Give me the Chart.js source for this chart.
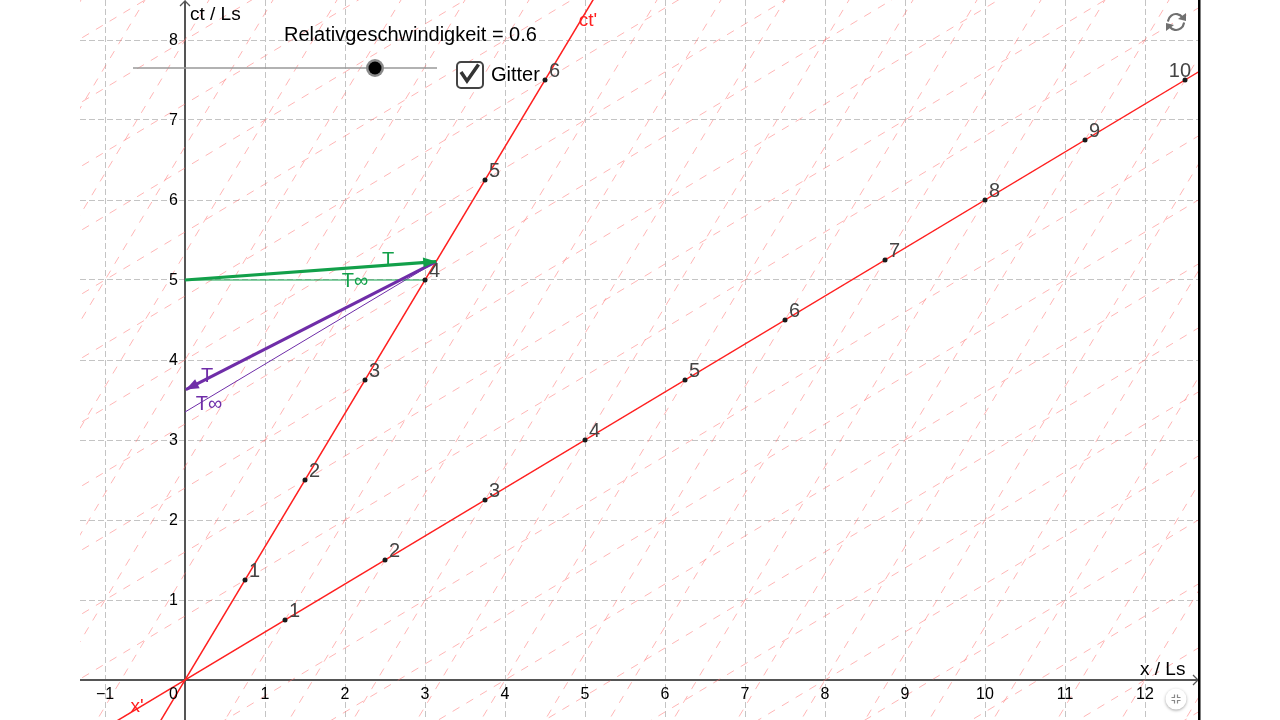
<!DOCTYPE html>
<html><head><meta charset="utf-8">
<script src="https://cdn.jsdelivr.net/npm/chart.js@4.4.1/dist/chart.umd.min.js"></script>
<style>
html,body{margin:0;padding:0;background:#fff;width:1280px;height:720px;overflow:hidden;font-family:"Liberation Sans",Arial,sans-serif}
#wrap{position:relative;width:1280px;height:720px}
canvas{position:absolute;left:0;top:0}
.lbl{position:absolute;color:#000;white-space:nowrap;font-size:20px;line-height:20px}
</style></head><body>
<div id="wrap"><canvas id="c" width="1280" height="720"></canvas>
<div class="lbl" style="left:284px;top:24px">Relativgeschwindigkeit = 0.6</div>
<div class="lbl" style="left:491px;top:64px">Gitter</div>
</div>
<script>
// ---- data ----
const velocity = 0.6;
const xTickValues = [-1,0,1,2,3,4,5,6,7,8,9,10,11,12];
const yTickValues = [1,2,3,4,5,6,7,8];
const ctPrimeTickLabels = ['1','2','3','4','5','6'];
const ctPrimeTickX = [0.75,1.5,2.25,3,3.75,4.5];
const ctPrimeTickY = [1.25,2.5,3.75,5,6.25,7.5];
const xPrimeTickLabels = ['1','2','3','4','5','6','7','8','9','10'];
const xPrimeTickX = [1.25,2.5,3.75,5,6.25,7.5,8.75,10,11.25,12.5];
const xPrimeTickY = [0.75,1.5,2.25,3,3.75,4.5,5.25,6,6.75,7.5];
const primedGridOffsets = [-8,-7.2,-6.4,-5.6,-4.8,-4,-3.2,-2.4,-1.6,-0.8,0,0.8,1.6,2.4,3.2,4,4.8,5.6,6.4,7.2,8,8.8,9.6,10.4,11.2,12,12.8];
const signalTX = [0, 3.14];      const signalTY = [5.0, 5.23];
const signalTInfX = [0, 3.0];    const signalTInfY = [5.0, 5.0];
const returnTX = [3.14, 0.01];   const returnTY = [5.23, 3.63];
const returnTInfX = [3.14, 0];   const returnTInfY = [5.23, 3.35];

const pts = (xs, ys) => xs.map((x, i) => ({x, y: ys[i]}));
const GREEN = '#12a04a', PURPLE = '#6f2da8', RED = '#ff2020';

const datasets = [];
primedGridOffsets.forEach(c => {
  // lines parallel to x' (constant ct')
  datasets.push({data:[{x:-3,y:c+velocity*-3},{x:16,y:c+velocity*16}], showLine:true, borderColor:'rgba(255,110,110,0.5)', borderWidth:1, borderDash:[8,8], pointRadius:0, order:10});
  // lines parallel to ct' (constant x')
  datasets.push({data:[{x:c+velocity*-2,y:-2},{x:c+velocity*11,y:11}], showLine:true, borderColor:'rgba(255,110,110,0.5)', borderWidth:1, borderDash:[8,8], pointRadius:0, order:10});
});
// primed axes
datasets.push({data:[{x:-3,y:-3*velocity},{x:16,y:16*velocity}], showLine:true, borderColor:RED, borderWidth:1.5, pointRadius:0, order:5});
datasets.push({data:[{x:-2*velocity,y:-2},{x:11*velocity,y:11}], showLine:true, borderColor:RED, borderWidth:1.5, pointRadius:0, order:5});
// signals
datasets.push({data:pts(signalTInfX, signalTInfY), showLine:true, borderColor:GREEN, borderWidth:1, pointRadius:0, order:3});
datasets.push({data:pts(returnTInfX, returnTInfY), showLine:true, borderColor:PURPLE, borderWidth:1, pointRadius:0, order:3});
datasets.push({data:pts(signalTX, signalTY), showLine:true, borderColor:GREEN, borderWidth:3.2, pointRadius:0, order:2});
datasets.push({data:pts(returnTX, returnTY), showLine:true, borderColor:PURPLE, borderWidth:3.2, pointRadius:0, order:2});
// tick points
datasets.push({data:pts(ctPrimeTickX, ctPrimeTickY), showLine:false, pointRadius:2.5, pointBackgroundColor:'#1a1a1a', pointBorderWidth:0, order:1});
datasets.push({data:pts(xPrimeTickX, xPrimeTickY), showLine:false, pointRadius:2.5, pointBackgroundColor:'#1a1a1a', pointBorderWidth:0, order:1});

function arrowHead(ctx, fx, fy, tx, ty, color, L, W) {
  const a = Math.atan2(ty - fy, tx - fx);
  ctx.save(); ctx.fillStyle = color; ctx.beginPath();
  ctx.moveTo(tx, ty);
  ctx.lineTo(tx - L*Math.cos(a) + W*Math.sin(a), ty - L*Math.sin(a) - W*Math.cos(a));
  ctx.lineTo(tx - L*Math.cos(a) - W*Math.sin(a), ty - L*Math.sin(a) + W*Math.cos(a));
  ctx.closePath(); ctx.fill(); ctx.restore();
}

const deco = {
  id:'deco',
  beforeDatasetsDraw(chart) {
    const {ctx, chartArea:a, scales:{x, y}} = chart;
    const x0 = x.getPixelForValue(0), y0 = y.getPixelForValue(0);
    ctx.save();
    ctx.strokeStyle = '#555'; ctx.lineWidth = 2;
    ctx.beginPath(); ctx.moveTo(a.left, y0); ctx.lineTo(a.right - 2, y0); ctx.stroke();
    ctx.beginPath(); ctx.moveTo(x0, a.bottom); ctx.lineTo(x0, a.top + 1); ctx.stroke();
    ctx.lineWidth = 1.3;
    ctx.beginPath(); ctx.moveTo(a.right - 7, y0 - 5); ctx.lineTo(a.right - 2, y0); ctx.lineTo(a.right - 7, y0 + 5); ctx.stroke();
    ctx.beginPath(); ctx.moveTo(x0 - 5, a.top + 6); ctx.lineTo(x0, a.top + 1); ctx.lineTo(x0 + 5, a.top + 6); ctx.stroke();
    ctx.restore();
  },
  afterDatasetsDraw(chart) {
    const {ctx, chartArea:a, scales:{x, y}} = chart;
    const x0 = x.getPixelForValue(0), y0 = y.getPixelForValue(0);
    const F = '"Liberation Sans", Arial, sans-serif';
    ctx.save();
    const px = (v) => x.getPixelForValue(v), py = (v) => y.getPixelForValue(v);
    // arrowheads
    arrowHead(ctx, px(signalTX[0]), py(signalTY[0]), px(signalTX[1]), py(signalTY[1]), GREEN, 13, 5);
    arrowHead(ctx, px(returnTX[0]), py(returnTY[0]), px(returnTX[1]), py(returnTY[1]), PURPLE, 13, 5);
    // tick labels
    ctx.fillStyle = '#000'; ctx.font = '16px ' + F;
    ctx.textBaseline = 'middle';
    xTickValues.forEach(v => {
      const p = px(v);
      if (v === 0) { ctx.textAlign = 'right'; ctx.fillText('0', x0 - 7, y0 + 15); }
      else { ctx.textAlign = 'center'; ctx.fillText(v < 0 ? '\u2212' + Math.abs(v) : String(v), p, y0 + 15); }
    });
    ctx.textAlign = 'right';
    yTickValues.forEach(v => ctx.fillText(String(v), x0 - 7, py(v) + 1));
    // axis titles
    ctx.font = '19px ' + F; ctx.textAlign = 'left';
    ctx.fillText('ct / Ls', x0 + 5, a.top + 15);
    ctx.fillText('x / Ls', 1140, y0 - 10);
    // primed axis names
    ctx.fillStyle = RED; ctx.textAlign = 'center';
    ctx.fillText("ct'", 588, 21);
    ctx.fillText("x'", 137, 707);
    // tick point labels
    ctx.fillStyle = '#444'; ctx.font = '20px ' + F; ctx.textAlign = 'left'; ctx.textBaseline = 'alphabetic';
    const lab = (xs, ys, ls) => xs.forEach((v, i) => {
      const w = ctx.measureText(ls[i]).width;
      const tx = Math.min(px(v) + 4, a.right - 9 - w);
      ctx.fillText(ls[i], tx, py(ys[i]) - 3);
    });
    lab(ctPrimeTickX, ctPrimeTickY, ctPrimeTickLabels);
    lab(xPrimeTickX, xPrimeTickY, xPrimeTickLabels);
    // signal labels
    ctx.textAlign = 'center'; ctx.textBaseline = 'middle';
    ctx.fillStyle = GREEN;
    ctx.fillText('T', 388, 260);
    ctx.fillText('T\u221e', 355, 281);
    ctx.fillStyle = PURPLE;
    ctx.fillText('T', 207, 376);
    ctx.fillText('T\u221e', 209, 404);
    // slider
    ctx.strokeStyle = '#999'; ctx.lineWidth = 1.3;
    ctx.beginPath(); ctx.moveTo(133, 68); ctx.lineTo(437, 68); ctx.stroke();
    ctx.fillStyle = '#8a8a8a'; ctx.beginPath(); ctx.arc(375, 68, 9, 0, Math.PI*2); ctx.fill();
    ctx.fillStyle = '#000'; ctx.beginPath(); ctx.arc(375, 68, 6.5, 0, Math.PI*2); ctx.fill();
    // checkbox
    ctx.fillStyle = '#fff'; ctx.strokeStyle = '#444'; ctx.lineWidth = 2;
    ctx.beginPath(); ctx.roundRect(457, 62, 26, 26, 4); ctx.fill(); ctx.stroke();
    ctx.strokeStyle = '#333'; ctx.lineWidth = 3.5; ctx.lineJoin = 'miter'; ctx.lineCap = 'butt';
    ctx.beginPath(); ctx.moveTo(461, 72); ctx.lineTo(467, 81); ctx.lineTo(478.5, 64.5); ctx.stroke();
    // reload icon
    ctx.strokeStyle = '#707070'; ctx.lineWidth = 2.2; ctx.lineCap = 'round';
    ctx.beginPath(); ctx.arc(1176, 22, 8, Math.PI*1.05, Math.PI*1.8); ctx.stroke();
    ctx.beginPath(); ctx.arc(1176, 22, 8, Math.PI*0.05, Math.PI*0.8); ctx.stroke();
    ctx.fillStyle = '#707070';
    ctx.beginPath(); ctx.moveTo(1186, 13); ctx.lineTo(1186, 21); ctx.lineTo(1178, 19); ctx.closePath(); ctx.fill();
    ctx.beginPath(); ctx.moveTo(1166, 31); ctx.lineTo(1166, 23); ctx.lineTo(1174, 25); ctx.closePath(); ctx.fill();
    // bottom-right button
    ctx.save();
    ctx.shadowColor = 'rgba(0,0,0,0.35)'; ctx.shadowBlur = 3; ctx.shadowOffsetY = 1;
    ctx.fillStyle = '#fff'; ctx.beginPath(); ctx.arc(1176, 699, 10.5, 0, Math.PI*2); ctx.fill();
    ctx.restore();
    ctx.strokeStyle = '#888'; ctx.lineWidth = 1.2; ctx.lineCap = 'butt';
    [[-1,-1],[1,-1],[-1,1],[1,1]].forEach(([sx, sy]) => {
      const cx = 1176 + sx*1.5, cy = 699 + sy*1.5;
      ctx.beginPath(); ctx.moveTo(cx + sx*3, cy); ctx.lineTo(cx, cy); ctx.lineTo(cx, cy + sy*3); ctx.stroke();
    });
    // right border
    ctx.fillStyle = '#000'; ctx.fillRect(1198, 0, 2.5, 720);
    ctx.restore();
  }
};

const intTicks = (vals) => (scale) => { scale.ticks = vals.map(v => ({value: v})); };

new Chart(document.getElementById('c'), {
  type: 'scatter',
  data: { datasets },
  options: {
    responsive: false, animation: false, devicePixelRatio: 1, events: [],
    layout: { autoPadding: false, padding: { left: 80, right: 80, top: 0, bottom: 0 } },
    plugins: { legend: { display: false }, tooltip: { enabled: false } },
    scales: {
      x: { type: 'linear', min: -1.3125, max: 12.6875,
           afterBuildTicks: intTicks(xTickValues),
           ticks: { display: false }, grid: { color: '#c4c4c4', lineWidth: 1, drawTicks: false },
           border: { display: false, dash: [6, 3] } },
      y: { type: 'linear', min: -0.5, max: 8.5,
           afterBuildTicks: intTicks([0].concat(yTickValues)),
           ticks: { display: false }, grid: { color: '#c4c4c4', lineWidth: 1, drawTicks: false },
           border: { display: false, dash: [6, 3] } }
    }
  },
  plugins: [deco]
});
</script>
</body></html>
